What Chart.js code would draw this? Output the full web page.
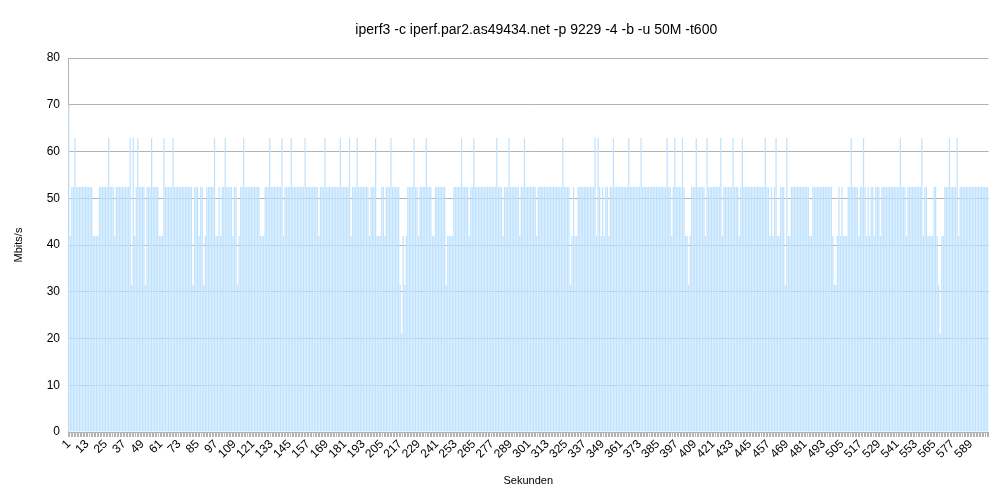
<!DOCTYPE html>
<html>
<head>
<meta charset="utf-8">
<script src="https://cdn.jsdelivr.net/npm/chart.js@4"></script>
<style>
  html, body { margin: 0; padding: 0; background: #fff; }
  #wrap { width: 998px; height: 500px; }
</style>
</head>
<body>
<div id="wrap"><canvas id="chart"></canvas></div>
<script>
var chartTitle = "iperf3 -c iperf.par2.as49434.net -p 9229 -4 -b -u 50M -t600";
var yAxisTitle = "Mbits/s";
var xAxisTitle = "Sekunden";

// labelled seconds on the x axis (every 12th)
var xTickLabels = [1, 13, 25, 37, 49, 61, 73, 85, 97, 109, 121, 133, 145, 157, 169, 181, 193, 205,
  217, 229, 241, 253, 265, 277, 289, 301, 313, 325, 337, 349, 361, 373, 385, 397, 409, 421, 433,
  445, 457, 469, 481, 493, 505, 517, 529, 541, 553, 565, 577, 589];

// Mbits/s per second, seconds 1..600 (20 per row)
var mbits = [
  70, 41.9, 52.4, 52.4, 62.9, 52.4, 52.4, 52.4, 52.4, 52.4, 52.4, 52.4, 52.4, 52.4, 52.4, 52.4, 41.9, 41.9, 41.9, 41.9,
  52.4, 52.4, 52.4, 52.4, 52.4, 52.4, 62.9, 52.4, 52.4, 52.4, 41.9, 52.4, 52.4, 52.4, 52.4, 52.4, 52.4, 52.4, 52.4, 52.4,
  62.9, 31.5, 62.9, 41.9, 52.4, 62.9, 52.4, 52.4, 52.4, 52.4, 31.5, 52.4, 52.4, 52.4, 62.9, 52.4, 52.4, 52.4, 52.4, 41.9,
  41.9, 41.9, 62.9, 52.4, 52.4, 52.4, 52.4, 52.4, 62.9, 52.4, 52.4, 52.4, 52.4, 52.4, 52.4, 52.4, 52.4, 52.4, 52.4, 52.4,
  52.4, 31.5, 52.4, 52.4, 52.4, 41.9, 52.4, 52.4, 31.5, 41.9, 52.4, 52.4, 52.4, 52.4, 52.4, 62.9, 41.9, 41.9, 52.4, 41.9,
  52.4, 52.4, 62.9, 52.4, 52.4, 52.4, 52.4, 41.9, 52.4, 52.4, 31.5, 41.9, 52.4, 52.4, 62.9, 52.4, 52.4, 52.4, 52.4, 52.4,
  52.4, 52.4, 52.4, 52.4, 52.4, 41.9, 41.9, 41.9, 52.4, 52.4, 52.4, 62.9, 52.4, 52.4, 52.4, 52.4, 52.4, 52.4, 52.4, 62.9,
  41.9, 52.4, 52.4, 52.4, 52.4, 62.9, 52.4, 52.4, 52.4, 52.4, 52.4, 52.4, 52.4, 52.4, 62.9, 52.4, 52.4, 52.4, 52.4, 52.4,
  52.4, 52.4, 52.4, 41.9, 52.4, 52.4, 52.4, 62.9, 52.4, 52.4, 52.4, 52.4, 52.4, 52.4, 52.4, 52.4, 52.4, 62.9, 52.4, 52.4,
  52.4, 52.4, 52.4, 62.9, 41.9, 52.4, 52.4, 52.4, 62.9, 52.4, 52.4, 52.4, 52.4, 52.4, 52.4, 52.4, 41.9, 52.4, 52.4, 52.4,
  62.9, 41.9, 41.9, 41.9, 52.4, 52.4, 41.9, 52.4, 52.4, 52.4, 62.9, 52.4, 52.4, 52.4, 52.4, 52.4, 31.5, 21.0, 41.9, 31.5,
  41.9, 52.4, 52.4, 52.4, 52.4, 62.9, 52.4, 52.4, 41.9, 52.4, 52.4, 52.4, 52.4, 62.9, 52.4, 52.4, 52.4, 41.9, 41.9, 52.4,
  52.4, 52.4, 52.4, 52.4, 52.4, 52.4, 31.5, 41.9, 41.9, 41.9, 41.9, 52.4, 52.4, 52.4, 52.4, 52.4, 62.9, 52.4, 52.4, 52.4,
  52.4, 41.9, 52.4, 52.4, 62.9, 52.4, 52.4, 52.4, 52.4, 52.4, 52.4, 52.4, 52.4, 52.4, 52.4, 52.4, 52.4, 52.4, 52.4, 62.9,
  52.4, 52.4, 52.4, 41.9, 52.4, 52.4, 52.4, 62.9, 52.4, 52.4, 52.4, 52.4, 52.4, 52.4, 41.9, 52.4, 52.4, 62.9, 52.4, 52.4,
  52.4, 52.4, 52.4, 52.4, 52.4, 41.9, 52.4, 52.4, 52.4, 52.4, 52.4, 52.4, 52.4, 52.4, 52.4, 52.4, 52.4, 52.4, 52.4, 52.4,
  52.4, 52.4, 62.9, 52.4, 52.4, 52.4, 52.4, 31.5, 41.9, 52.4, 41.9, 41.9, 52.4, 52.4, 52.4, 52.4, 52.4, 52.4, 52.4, 52.4,
  52.4, 52.4, 52.4, 62.9, 41.9, 62.9, 52.4, 41.9, 52.4, 41.9, 52.4, 52.4, 41.9, 52.4, 52.4, 62.9, 52.4, 52.4, 52.4, 52.4,
  52.4, 52.4, 52.4, 52.4, 52.4, 62.9, 52.4, 52.4, 52.4, 52.4, 52.4, 52.4, 52.4, 62.9, 52.4, 52.4, 52.4, 52.4, 52.4, 52.4,
  52.4, 52.4, 52.4, 52.4, 52.4, 52.4, 52.4, 52.4, 52.4, 52.4, 62.9, 52.4, 52.4, 41.9, 52.4, 62.9, 52.4, 52.4, 52.4, 52.4,
  62.9, 52.4, 41.9, 41.9, 31.5, 41.9, 52.4, 52.4, 52.4, 62.9, 52.4, 52.4, 52.4, 52.4, 52.4, 41.9, 62.9, 52.4, 52.4, 52.4,
  52.4, 52.4, 52.4, 52.4, 52.4, 62.9, 41.9, 52.4, 52.4, 52.4, 52.4, 52.4, 52.4, 62.9, 52.4, 52.4, 52.4, 41.9, 52.4, 62.9,
  52.4, 52.4, 52.4, 52.4, 52.4, 52.4, 52.4, 52.4, 52.4, 52.4, 52.4, 52.4, 52.4, 52.4, 62.9, 52.4, 52.4, 41.9, 52.4, 41.9,
  52.4, 62.9, 41.9, 41.9, 52.4, 52.4, 52.4, 31.5, 62.9, 41.9, 41.9, 52.4, 52.4, 52.4, 52.4, 52.4, 52.4, 52.4, 52.4, 52.4,
  52.4, 52.4, 52.4, 41.9, 41.9, 52.4, 52.4, 52.4, 52.4, 52.4, 52.4, 52.4, 52.4, 52.4, 52.4, 52.4, 52.4, 52.4, 41.9, 31.5,
  31.5, 41.9, 52.4, 41.9, 52.4, 41.9, 41.9, 41.9, 52.4, 52.4, 62.9, 52.4, 52.4, 52.4, 52.4, 41.9, 52.4, 52.4, 62.9, 52.4,
  41.9, 52.4, 41.9, 52.4, 52.4, 41.9, 52.4, 52.4, 52.4, 41.9, 52.4, 52.4, 52.4, 52.4, 52.4, 52.4, 52.4, 52.4, 52.4, 52.4,
  52.4, 52.4, 62.9, 52.4, 52.4, 52.4, 41.9, 52.4, 52.4, 52.4, 52.4, 52.4, 52.4, 52.4, 52.4, 52.4, 62.9, 41.9, 52.4, 52.4,
  41.9, 41.9, 41.9, 41.9, 52.4, 52.4, 41.9, 31.5, 21.0, 41.9, 41.9, 52.4, 52.4, 52.4, 62.9, 52.4, 52.4, 52.4, 52.4, 62.9,
  41.9, 52.4, 52.4, 52.4, 52.4, 52.4, 52.4, 52.4, 52.4, 52.4, 52.4, 52.4, 52.4, 52.4, 52.4, 52.4, 52.4, 52.4, 52.4, 52.4
];

var seconds = [];
for (var i = 1; i <= mbits.length; i++) {
  seconds.push(i);
}

var fontFamily = '"Liberation Sans", Arial, sans-serif';
var gridColor = "#b3b3b3";

// draw the chart title a bit right of centre, like the original
var titlePlugin = {
  id: "offsetTitle",
  afterDraw: function (chart) {
    var ctx = chart.ctx;
    var area = chart.chartArea;
    ctx.save();
    ctx.font = "14px " + fontFamily;
    ctx.fillStyle = "#000";
    ctx.textAlign = "center";
    ctx.textBaseline = "middle";
    ctx.fillText(chartTitle, (area.left + area.right) / 2 + 8, 30);
    ctx.restore();
  }
};

new Chart(document.getElementById("chart"), {
  type: "bar",
  data: {
    labels: seconds,
    datasets: [{
      label: yAxisTitle,
      data: mbits,
      backgroundColor: "#bfe2fe",
      borderWidth: 0,
      barPercentage: 0.8,
      categoryPercentage: 1.0
    }]
  },
  options: {
    responsive: true,
    maintainAspectRatio: false,
    animation: false,
    layout: { padding: { left: 0, right: 6, top: 58, bottom: 0 } },
    plugins: {
      legend: { display: false },
      tooltip: { enabled: false }
    },
    scales: {
      x: {
        grid: { drawOnChartArea: false, drawTicks: true, tickLength: 5, color: gridColor },
        border: { color: gridColor },
        ticks: {
          autoSkip: false,
          minRotation: 45,
          maxRotation: 45,
          padding: 0,
          color: "#000",
          font: { family: fontFamily, size: 12 },
          callback: function (value, index) {
            var s = seconds[index];
            return xTickLabels.indexOf(s) >= 0 ? String(s) : "";
          }
        },
        title: {
          display: true,
          text: xAxisTitle,
          color: "#000",
          font: { family: fontFamily, size: 11 },
          padding: { top: 0, bottom: 12 }
        },
        afterFit: function (scale) { scale.height = 68; }
      },
      y: {
        min: 0,
        max: 80,
        grid: { color: gridColor, drawTicks: false },
        border: { color: gridColor },
        ticks: {
          stepSize: 10,
          padding: 8,
          color: "#000",
          font: { family: fontFamily, size: 12 }
        },
        title: {
          display: true,
          text: yAxisTitle,
          color: "#000",
          font: { family: fontFamily, size: 11 },
          padding: { top: 12, bottom: 0 }
        },
        afterFit: function (scale) { scale.width = 68; }
      }
    }
  },
  plugins: [titlePlugin]
});
</script>
</body>
</html>
